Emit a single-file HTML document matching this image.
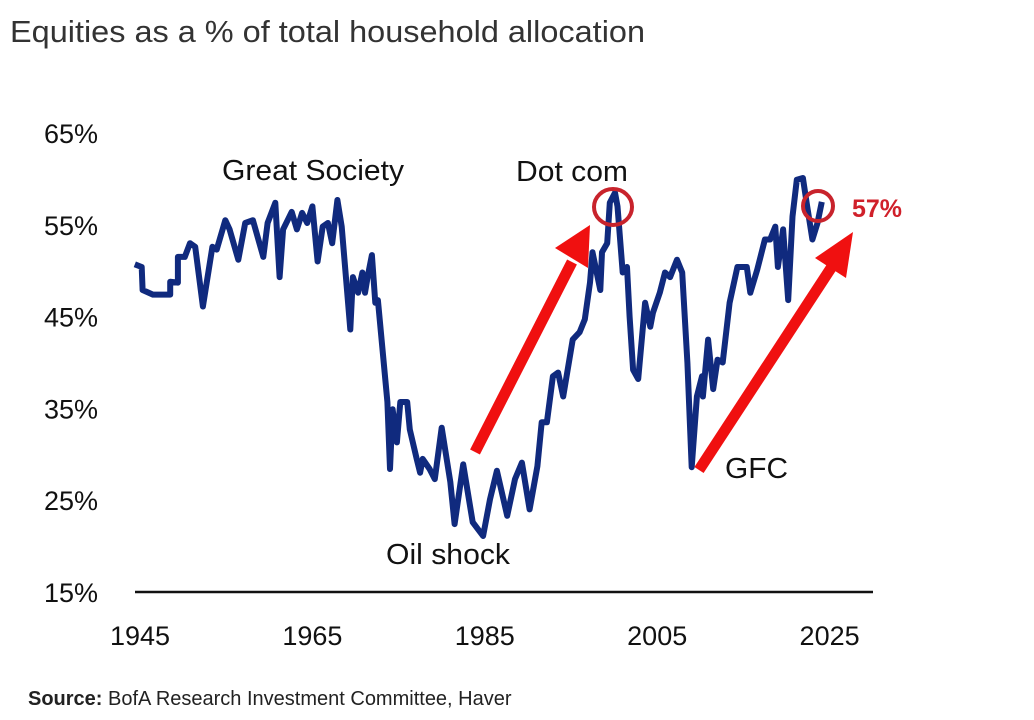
<!DOCTYPE html>
<html><head><meta charset="utf-8"><style>
body{margin:0;background:#fff;}
svg{display:block;font-family:"Liberation Sans",Arial,sans-serif;}
</style></head><body>
<svg id="chart" width="1034" height="720" viewBox="0 0 1034 720">
<text x="10" y="42" font-size="31" fill="#333" textLength="635" lengthAdjust="spacingAndGlyphs">Equities as a % of total household allocation</text>
<g id="yaxis"></g>
<g id="xaxis"></g>
<path id="series" fill="none" stroke="#102a7e" stroke-width="6" stroke-linejoin="round"/>
<g>
<text x="222" y="180" font-size="29" fill="#111" textLength="182" lengthAdjust="spacingAndGlyphs">Great Society</text>
<text x="516" y="181" font-size="29" fill="#111" textLength="112" lengthAdjust="spacingAndGlyphs">Dot com</text>
<text x="386" y="564" font-size="29" fill="#111" textLength="124" lengthAdjust="spacingAndGlyphs">Oil shock</text>
<text x="725" y="478" font-size="29" fill="#111" textLength="63" lengthAdjust="spacingAndGlyphs">GFC</text>
<text x="852" y="217" font-size="25" font-weight="bold" fill="#d0202a">57%</text>
<g>
<line x1="475" y1="452" x2="572" y2="262" stroke="#f01010" stroke-width="11"/>
<polygon points="590,225 555,248 588,268" fill="#f01010"/>
</g>
<g>
<line x1="699" y1="470" x2="833" y2="265" stroke="#f01010" stroke-width="11"/>
<polygon points="853,232 815,258 846,278" fill="#f01010"/>
</g>
<ellipse cx="613" cy="207" rx="19" ry="18" fill="none" stroke="#c8232c" stroke-width="4"/>
<ellipse cx="818" cy="206" rx="15" ry="15" fill="none" stroke="#c8232c" stroke-width="4"/>
</g>
<text x="28" y="705" font-size="20" fill="#222"><tspan font-weight="bold">Source:</tspan> BofA Research Investment Committee, Haver</text>
</svg>
<script>
const years=[1944.4,1945.2,1945.3,1946.5,1948.5,1948.5,1949.4,1949.4,1950.2,1950.8,1951.4,1952.3,1953.4,1953.9,1954.9,1955.4,1956.4,1957.2,1958.1,1959.3,1959.8,1960.7,1961.2,1961.6,1962.6,1963.2,1963.8,1964.4,1965.0,1965.6,1966.2,1966.8,1967.3,1967.9,1968.4,1969.4,1969.7,1970.3,1970.8,1971.1,1971.4,1971.9,1972.3,1972.6,1973.7,1974.0,1974.3,1974.8,1975.2,1976.0,1976.3,1977.1,1977.5,1977.8,1978.6,1979.2,1980.0,1981.0,1981.5,1982.5,1983.6,1984.8,1985.6,1986.4,1987.6,1988.5,1989.3,1990.2,1991.1,1991.6,1992.2,1992.9,1993.5,1994.1,1995.2,1996.0,1996.6,1997.2,1997.5,1998.4,1998.6,1999.2,1999.5,2000.1,2000.4,2001.0,2001.5,2001.8,2002.2,2002.8,2003.6,2004.2,2004.5,2005.3,2005.9,2006.5,2007.3,2007.9,2008.5,2009.0,2009.6,2010.2,2010.3,2010.9,2011.5,2012.0,2012.6,2013.4,2014.3,2015.4,2015.8,2016.6,2017.5,2018.1,2018.7,2019.0,2019.6,2020.2,2020.7,2021.2,2021.9,2022.4,2023.0,2023.6,2024.1];
const values=[50.7,50.4,47.9,47.4,47.4,48.8,48.7,51.5,51.5,53.0,52.6,46.1,52.6,52.3,55.5,54.5,51.2,55.2,55.5,51.5,55.2,57.4,49.3,54.5,56.4,54.5,56.3,55.2,57.0,51.0,54.8,55.2,53.0,57.7,54.8,43.6,49.3,47.6,49.8,47.6,49.3,51.7,46.5,46.8,35.7,28.4,34.9,31.3,35.7,35.7,32.7,29.5,28.0,29.5,28.4,27.3,32.9,27.0,22.4,28.9,22.6,21.1,25.1,28.2,23.3,27.3,29.1,24.0,28.7,33.5,33.5,38.5,38.9,36.3,42.5,43.3,44.7,48.7,52.0,47.9,52.0,53.0,57.4,58.5,57.0,49.8,50.4,45.0,39.2,38.2,46.5,43.9,45.4,47.6,49.8,49.3,51.2,49.8,40.0,28.6,36.3,38.5,36.3,42.5,37.1,40.3,40.0,46.5,50.4,50.4,47.6,50.1,53.4,53.4,54.8,50.4,54.5,46.8,55.9,59.9,60.1,57.0,53.4,55.2,57.5];
const yTicks=[15,25,35,45,55,65];
const xTicks=[1945,1965,1985,2005,2025];
const X=y=>140+(y-1945)*8.62;
const Y=v=>592-(v-15)*9.18;
const NS='http://www.w3.org/2000/svg';
const ya=document.getElementById('yaxis'), xa=document.getElementById('xaxis');
yTicks.forEach(t=>{const e=document.createElementNS(NS,'text');
e.setAttribute('x',98);e.setAttribute('y',Y(t)+10);e.setAttribute('text-anchor','end');e.setAttribute('font-size','27');e.setAttribute('fill','#111');


e.textContent=t+'%';ya.appendChild(e);});
const ax=document.createElementNS(NS,'line');
ax.setAttribute('x1',135);ax.setAttribute('x2',873);ax.setAttribute('y1',Y(15));ax.setAttribute('y2',Y(15));ax.setAttribute('stroke','#111');ax.setAttribute('stroke-width','2.5');


xa.appendChild(ax);
xTicks.forEach(t=>{const e=document.createElementNS(NS,'text');
e.setAttribute('x',X(t));e.setAttribute('y',645);e.setAttribute('text-anchor','middle');e.setAttribute('font-size','27');e.setAttribute('fill','#111');


e.textContent=t;xa.appendChild(e);});
document.getElementById('series').setAttribute('d',years.map((y,i)=>(i?'L':'M')+X(y).toFixed(1)+','+Y(values[i]).toFixed(1)).join(''));
</script>
</body></html>
